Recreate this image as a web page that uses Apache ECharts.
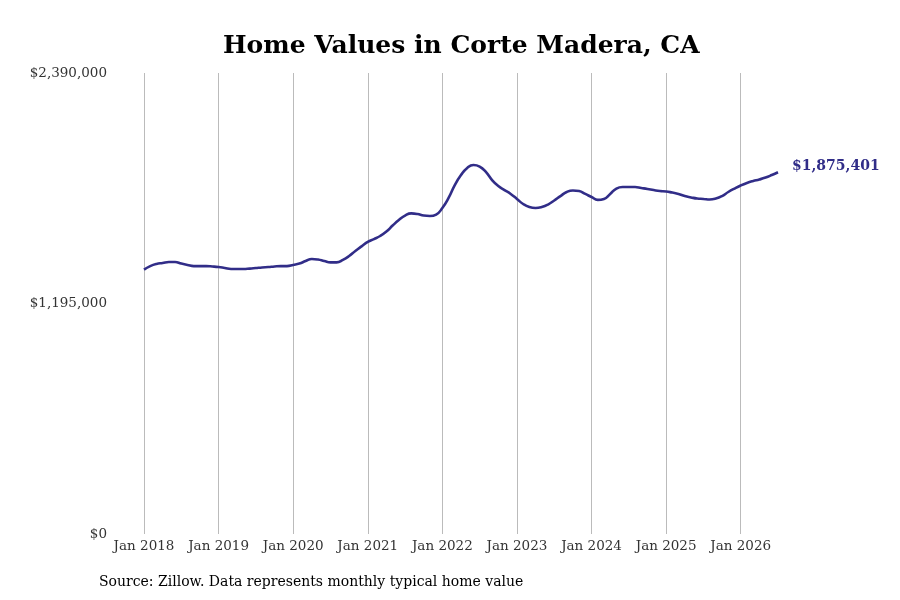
<!DOCTYPE html>
<html>
<head>
<meta charset="utf-8">
<script src="https://cdn.jsdelivr.net/npm/echarts@6/dist/echarts.min.js"></script>
<style>
  html, body { margin: 0; padding: 0; background: #fff; }
  #chart { width: 900px; height: 600px; }
</style>
</head>
<body>
<div id="chart"></div>
<script>
// monthly typical home value, Jan 2018 .. Jul 2026 (thousands of dollars)
var years = [2018, 2019, 2020, 2021, 2022, 2023, 2024, 2025, 2026];
var values2018 = [1371, 1389, 1400, 1405, 1410, 1410, 1402, 1395, 1389, 1389, 1389, 1387];
var values2019 = [1384, 1379, 1374, 1374, 1374, 1376, 1379, 1382, 1384, 1387, 1389, 1389];
var values2020 = [1395, 1402, 1415, 1426, 1423, 1415, 1408, 1408, 1421, 1441, 1467, 1491];
var values2021 = [1514, 1529, 1545, 1568, 1599, 1628, 1651, 1662, 1659, 1651, 1649, 1656];
var values2022 = [1690, 1742, 1809, 1861, 1898, 1913, 1905, 1877, 1835, 1804, 1783, 1763];
var values2023 = [1737, 1711, 1695, 1690, 1695, 1708, 1729, 1752, 1773, 1781, 1778, 1763];
var values2024 = [1747, 1732, 1737, 1763, 1791, 1799, 1799, 1799, 1794, 1789, 1783, 1778];
var values2025 = [1776, 1770, 1763, 1752, 1745, 1739, 1737, 1734, 1739, 1752, 1773, 1791];
var values2026 = [1807, 1820, 1830, 1838, 1848, 1861, 1875.401];
var yTicks = [0, 1195000, 2390000];
var monthNames = ['Jan','Feb','Mar','Apr','May','Jun','Jul','Aug','Sep','Oct','Nov','Dec'];

var allValues = [].concat(values2018, values2019, values2020, values2021, values2022,
                          values2023, values2024, values2025, values2026);
var months = [];
var data = [];
for (var i = 0; i < allValues.length; i++) {
  months.push(monthNames[i % 12] + ' ' + years[Math.floor(i / 12)]);
  data.push(Math.round(allValues[i] * 1000));
}

function money(v) {
  return '$' + Math.round(v).toString().replace(/\B(?=(\d{3})+(?!\d))/g, ',');
}

var serif = 'DejaVu Serif';
var myChart = echarts.init(document.getElementById('chart'));
myChart.setOption({
  animation: false,
  backgroundColor: '#fff',
  title: {
    text: 'Home Values in Corte Madera, CA',
    left: 218,
    top: 29,
    textStyle: { fontFamily: serif, fontWeight: 'bold', fontSize: 25, color: '#000' }
  },
  grid: { left: 144, right: 122, top: 73, bottom: 66, containLabel: false },
  xAxis: {
    type: 'category',
    data: months,
    boundaryGap: false,
    axisLine: { show: false },
    axisTick: { show: false },
    axisLabel: {
      interval: function (idx) { return idx % 12 === 0; },
      formatter: function (v) { return v; },
      fontFamily: serif, fontSize: 13.5, color: '#333', margin: 5
    },
    splitLine: {
      show: true,
      interval: function (idx) { return idx % 12 === 0; },
      lineStyle: { color: '#bbbbbb', width: 1 }
    }
  },
  yAxis: {
    type: 'value',
    min: yTicks[0],
    max: yTicks[2],
    interval: yTicks[1],
    axisLine: { show: false },
    axisTick: { show: false },
    splitLine: { show: false },
    axisLabel: {
      formatter: money,
      fontFamily: serif, fontSize: 13.5, color: '#333', margin: 37
    }
  },
  series: [{
    type: 'line',
    data: data,
    smooth: true,
    symbol: 'none',
    lineStyle: { color: '#312d88', width: 2.6 },
    endLabel: {
      show: true,
      formatter: function (p) { return money(p.value); },
      distance: 14,
      offset: [0, -6],
      fontFamily: serif, fontWeight: 'bold', fontSize: 14, color: '#312d88'
    }
  }],
  graphic: [{
    type: 'text',
    left: 99,
    top: 575,
    style: {
      text: 'Source: Zillow. Data represents monthly typical home value',
      font: '14px "DejaVu Serif"',
      fill: '#000'
    }
  }]
});
</script>
</body>
</html>
